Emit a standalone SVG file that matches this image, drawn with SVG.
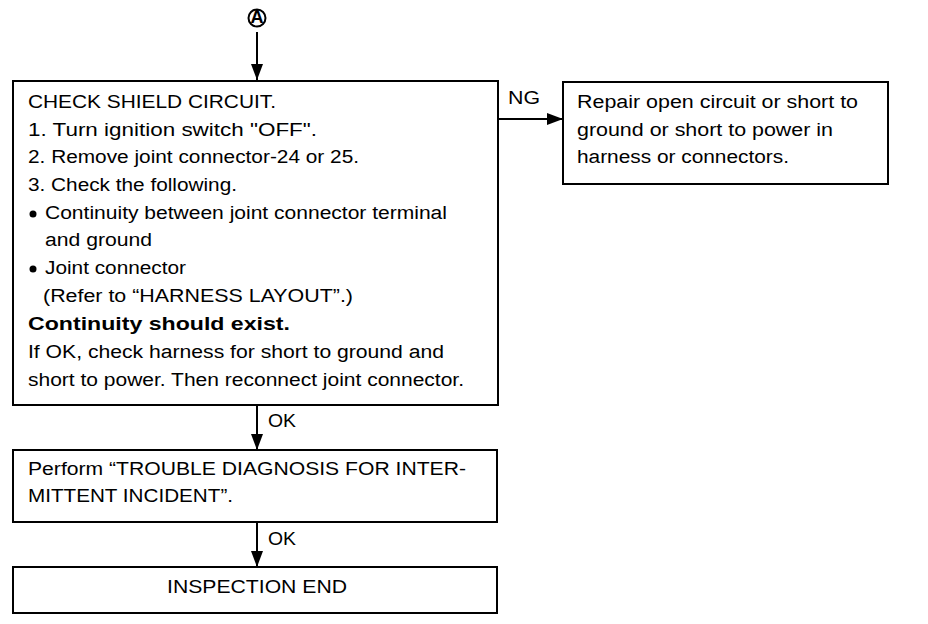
<svg xmlns="http://www.w3.org/2000/svg" width="928" height="624" viewBox="0 0 928 624">
<style>
.box{fill:#fff;stroke:#000;stroke-width:2}
.t{font-family:"Liberation Sans",Arial,sans-serif;font-size:18px;fill:#000}
.b{font-weight:bold}
.c{stroke:#000;stroke-width:2;fill:none}
</style>
<defs>
<marker id="arr" viewBox="0 0 16 12" refX="16" refY="6" markerWidth="16" markerHeight="12" orient="auto" markerUnits="userSpaceOnUse">
<path d="M0,0 L16,6 L0,12 z" fill="#000"/>
</marker>
</defs>
<rect width="928" height="624" fill="#fff"/>
<g id="connectors">
<line class="c" x1="257" y1="32" x2="257" y2="80" marker-end="url(#arr)"/>
<line class="c" x1="498" y1="119" x2="563" y2="119" marker-end="url(#arr)"/>
<line class="c" x1="257" y1="405" x2="257" y2="450" marker-end="url(#arr)"/>
<line class="c" x1="257" y1="522" x2="257" y2="567" marker-end="url(#arr)"/>
<text class="t" x="508" y="104" textLength="32" lengthAdjust="spacingAndGlyphs">NG</text>
<text class="t" x="268" y="427" textLength="28" lengthAdjust="spacingAndGlyphs">OK</text>
<text class="t" x="268" y="545" textLength="28" lengthAdjust="spacingAndGlyphs">OK</text>
</g>
<g id="connectorA">
<circle cx="257" cy="18" r="8.5" fill="#fff" stroke="#000" stroke-width="2"/>
<text class="t b" x="257" y="22.5" font-size="12" text-anchor="middle">A</text>
</g>
<g id="check">
<rect class="box" x="13" y="81" width="485" height="324"/>
<text class="t" x="28" y="108" textLength="248" lengthAdjust="spacingAndGlyphs">CHECK SHIELD CIRCUIT.</text>
<text class="t" x="28" y="136" textLength="289" lengthAdjust="spacingAndGlyphs">1. Turn ignition switch "OFF".</text>
<text class="t" x="28" y="163" textLength="331" lengthAdjust="spacingAndGlyphs">2. Remove joint connector-24 or 25.</text>
<text class="t" x="28" y="191" textLength="209" lengthAdjust="spacingAndGlyphs">3. Check the following.</text>
<circle cx="33" cy="214" r="3.5" fill="#000"/>
<text class="t" x="45" y="219" textLength="402" lengthAdjust="spacingAndGlyphs">Continuity between joint connector terminal</text>
<text class="t" x="45" y="246" textLength="107" lengthAdjust="spacingAndGlyphs">and ground</text>
<circle cx="33" cy="269" r="3.5" fill="#000"/>
<text class="t" x="45" y="274" textLength="141" lengthAdjust="spacingAndGlyphs">Joint connector</text>
<text class="t" x="43" y="302" textLength="310" lengthAdjust="spacingAndGlyphs">(Refer to “HARNESS LAYOUT”.)</text>
<text class="t b" x="28" y="330" textLength="262" lengthAdjust="spacingAndGlyphs">Continuity should exist.</text>
<text class="t" x="28" y="358" textLength="416" lengthAdjust="spacingAndGlyphs">If OK, check harness for short to ground and</text>
<text class="t" x="28" y="386" textLength="436" lengthAdjust="spacingAndGlyphs">short to power. Then reconnect joint connector.</text>
</g>
<g id="repair">
<rect class="box" x="563" y="82" width="325" height="102"/>
<text class="t" x="577" y="108" textLength="281" lengthAdjust="spacingAndGlyphs">Repair open circuit or short to</text>
<text class="t" x="577" y="136" textLength="256" lengthAdjust="spacingAndGlyphs">ground or short to power in</text>
<text class="t" x="577" y="163" textLength="212" lengthAdjust="spacingAndGlyphs">harness or connectors.</text>
</g>
<g id="perform">
<rect class="box" x="13" y="450" width="484" height="72"/>
<text class="t" x="28" y="475" textLength="438" lengthAdjust="spacingAndGlyphs">Perform “TROUBLE DIAGNOSIS FOR INTER-</text>
<text class="t" x="28" y="502" textLength="205" lengthAdjust="spacingAndGlyphs">MITTENT INCIDENT”.</text>
</g>
<g id="end">
<rect class="box" x="13" y="567" width="484" height="46"/>
<text class="t" x="167" y="593" textLength="180" lengthAdjust="spacingAndGlyphs">INSPECTION END</text>
</g>
</svg>
